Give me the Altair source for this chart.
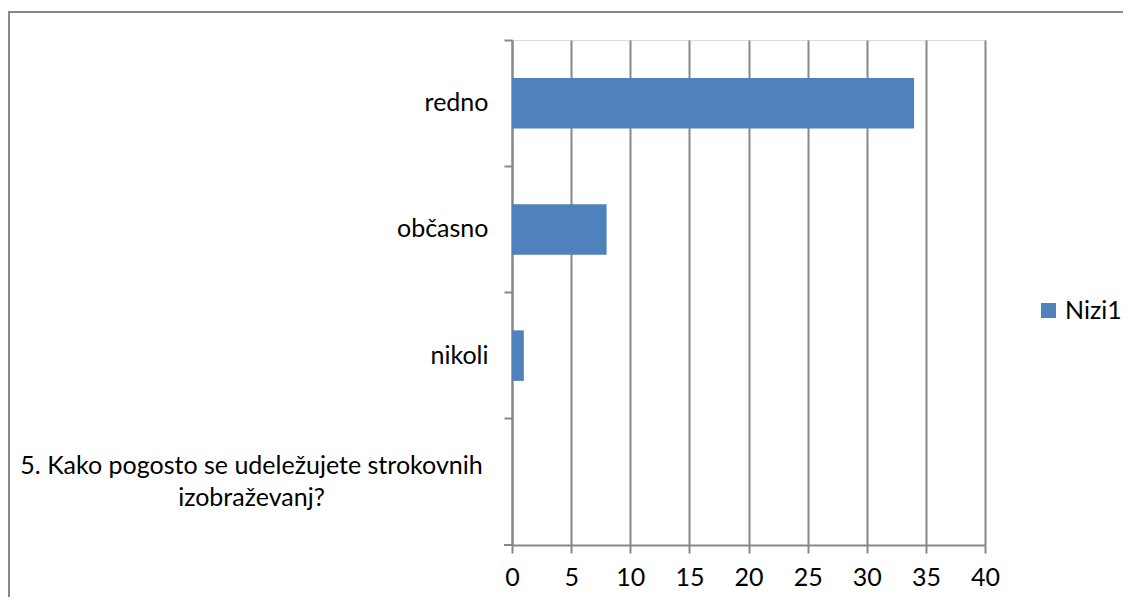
import altair as alt
import pandas as pd

categories = ["redno", "občasno", "nikoli",
              "5. Kako pogosto se udeležujete strokovnih izobraževanj?"]
values = [34, 8, 1, 0]
series = ["Nizi1", "Nizi1", "Nizi1", "Nizi1"]
x_ticks = [0, 5, 10, 15, 20, 25, 30, 35, 40]

df = pd.DataFrame({"kat": categories, "vrednost": values, "serija": series})

W, H = 473, 505
PL, PT, PR, PB = 504, 32, 138, 52
FONT = "Lato"
FS = 25
GRAY = "#888888"
BLUE = "#4F81BD"

long_test = "length(datum.value) > 30"
label_expr = (
    "length(datum.value) > 30 ? "
    "[substring(datum.value, 0, lastindexof(datum.value, ' ')), "
    "substring(datum.value, lastindexof(datum.value, ' ') + 1)] : datum.value"
)

bars = alt.Chart(df).mark_bar(height=alt.RelativeBandSize(0.4)).encode(
    y=alt.Y(
        "kat:N",
        sort=categories,
        scale=alt.Scale(domain=categories, paddingInner=0, paddingOuter=0),
        axis=alt.Axis(
            title=None,
            bandPosition=0,
            grid=False,
            domainColor=GRAY,
            domainWidth=2,
            tickColor=GRAY,
            tickWidth=2,
            tickSize=8,
            labelFont=FONT,
            labelFontSize=FS,
            labelColor="#000000",
            labelLimit=800,
            labelOverlap=False,
            labelLineHeight=32,
            labelExpr=label_expr,
            labelAlign={"condition": {"test": long_test, "value": "center"}, "value": "right"},
            labelPadding={"condition": {"test": long_test, "value": 253}, "value": 16},
            labelOffset={"condition": {"test": long_test, "value": -16}, "value": 0},
            labelBaseline="middle",
        ),
    ),
    x=alt.X(
        "vrednost:Q",
        scale=alt.Scale(domain=[0, 40], nice=False),
        axis=alt.Axis(
            title=None,
            values=x_ticks,
            grid=True,
            gridColor=GRAY,
            gridWidth=2,
            domainColor=GRAY,
            domainWidth=2,
            tickColor=GRAY,
            tickWidth=2,
            tickSize=8,
            labelFont=FONT,
            labelFontSize=FS,
            labelColor="#000000",
            labelPadding=12,
            labelFlush=False,
        ),
    ),
    color=alt.Color(
        "serija:N",
        scale=alt.Scale(range=[BLUE]),
        legend=alt.Legend(
            title=None,
            orient="none",
            legendX=524,
            legendY=258,
            symbolType="square",
            symbolSize=225,
            symbolStrokeWidth=0,
            labelFont=FONT,
            labelFontSize=FS,
            labelColor="#000000",
            labelOffset=4,
            padding=0,
        ),
    ),
)

one = alt.Data(values=[{}])
bottom_tick = alt.Chart(one).mark_rule(color=GRAY, strokeWidth=2).encode(
    x=alt.value(-8), x2=alt.value(0), y=alt.value(H)
)
border_left = alt.Chart(one).mark_rule(color=GRAY, strokeWidth=2).encode(
    x=alt.value(-PL + 1), y=alt.value(-28), y2=alt.value(H + PB)
)
border_top = alt.Chart(one).mark_rule(color=GRAY, strokeWidth=2).encode(
    x=alt.value(-PL), x2=alt.value(W + PR), y=alt.value(-28)
)

chart = alt.layer(bars, bottom_tick, border_left, border_top).properties(
    width=W,
    height=H,
    autosize=alt.AutoSizeParams(type="none"),
    padding={"left": PL, "top": PT, "right": PR, "bottom": PB},
).configure_view(stroke=None).configure(background="white")

chart.save("out.html", embed_options={"renderer": "svg", "actions": False})
